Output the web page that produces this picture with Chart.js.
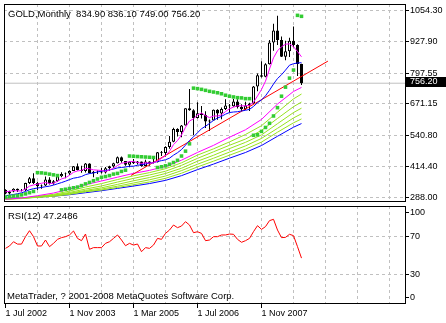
<!DOCTYPE html>
<html>
<head>
<meta charset="utf-8">
<script src="https://cdn.jsdelivr.net/npm/chart.js@4.4.1/dist/chart.umd.min.js"></script>
<style>
html, body { margin: 0; padding: 0; background: #fff; }
#wrap { position: relative; width: 446px; height: 323px; overflow: hidden; font-family: "Liberation Sans", Arial, sans-serif; }
#pricebox { position: absolute; left: 0; top: 0; width: 446px; height: 205px; }
#rsibox { position: absolute; left: 0; top: 205px; width: 446px; height: 118px; }
.lbl { position: absolute; font-size: 9.5px; line-height: 11px; white-space: pre; color: #000; }
</style>
</head>
<body>
<div id="wrap">
  <div id="pricebox"><canvas id="price"></canvas></div>
  <div id="rsibox"><canvas id="rsi"></canvas></div>
  <div class="lbl" id="t1" style="left:8px; top:8px;"></div>
  <div class="lbl" id="t2" style="left:8px; top:210px;"></div>
  <div class="lbl" id="t3" style="left:7px; top:290px;"></div>
</div>
<script>
// monthly bars, Jul 2002 .. Sep 2008 (bar index 0 = Jul 2002)
const opens = [318.5,304.5,312.8,323.7,317.0,317.5,347.5,367.5,348.0,334.0,
  337.0,362.0,346.0,355.0,375.0,384.0,386.0,397.0,416.0,401.0,
  397.0,427.0,388.0,394.0,395.0,391.0,408.0,416.0,428.0,453.0,
  438.0,422.0,435.0,428.0,436.0,417.0,436.0,429.0,433.0,473.0,
  470.0,495.0,517.0,569.0,556.0,583.0,654.0,645.0,614.0,633.0,
  626.0,599.0,604.0,648.0,632.0,651.0,665.0,662.0,681.0,659.0,
  650.0,665.0,673.0,743.0,789.0,783.0,834.0,923.0,972.0,933.0,
  865.0,887.0,930.0,913.0,834.9];
const highs = [321.5,316.0,326.0,325.0,323.0,349.0,372.5,388.0,353.0,341.0,
  374.0,371.0,360.0,377.0,392.0,391.0,400.0,417.0,427.0,418.0,
  429.0,428.0,397.0,399.0,409.0,413.0,418.0,430.0,456.0,456.0,
  438.0,437.0,446.0,438.0,436.0,443.0,437.0,448.0,475.0,479.0,
  498.0,540.0,574.0,572.0,585.0,654.0,732.0,650.0,678.0,663.0,
  641.0,608.0,649.0,650.0,657.0,690.0,671.0,692.0,691.0,670.0,
  680.0,676.0,745.0,796.0,846.0,838.0,933.0,1000.0,1032.0,947.0,
  930.0,942.0,988.0,916.0,836.1];
const lows = [302.0,300.5,310.0,311.0,313.0,315.0,344.0,344.0,319.0,324.0,
  335.0,341.0,340.0,353.0,371.0,367.0,380.0,397.0,399.0,390.0,
  391.0,386.0,371.0,384.0,387.0,387.0,398.0,410.0,427.0,431.0,
  418.0,412.0,425.0,423.0,414.0,415.0,418.0,427.0,432.0,458.0,
  456.0,488.0,514.0,538.0,535.0,583.0,643.0,543.0,612.0,612.0,
  573.0,560.0,604.0,607.0,609.0,647.0,636.0,660.0,653.0,641.0,
  647.0,642.0,672.0,723.0,780.0,781.0,833.0,889.0,913.0,863.0,
  850.0,863.0,903.0,786.0,749.0];
const closes = [304.5,312.8,323.7,317.0,317.5,347.5,367.5,348.0,334.0,337.0,
  362.0,346.0,355.0,375.0,384.0,386.0,397.0,416.0,401.0,397.0,
  427.0,388.0,394.0,395.0,391.0,408.0,416.0,428.0,453.0,438.0,
  422.0,435.0,428.0,436.0,417.0,436.0,429.0,433.0,473.0,470.0,
  495.0,517.0,569.0,556.0,583.0,654.0,645.0,614.0,633.0,626.0,
  599.0,604.0,648.0,632.0,651.0,665.0,662.0,681.0,659.0,650.0,
  665.0,673.0,743.0,789.0,783.0,834.0,923.0,972.0,933.0,865.0,
  887.0,930.0,913.0,834.9,756.2];

// short MA (magenta) and mid MA (blue), one value per bar
const maShort = [311.6,313.6,316.8,315,315.2,323.8,334.8,339.6,343,346.6,
  349.6,345.4,346.8,355,364.4,369.2,379.4,391.6,396.8,399.4,
  407.6,405.8,401.4,400.2,399,395.2,400.8,407.6,419.2,428.6,
  431.4,435.2,435.2,431.8,427.6,430.4,429.2,430.2,437.6,448.2,
  460,477.6,504.8,521.4,544,575.8,601.4,610.4,625.8,634.4,
  623.4,615.2,622,621.8,626.8,640,651.6,658.2,663.6,663.4,
  663.4,665.6,678,704,730.6,764.4,814.4,860.2,889,905.4,
  916,917.4,905.6,886,864.2];
const maMid = [294.7,297.9,300.5,303.7,307.3,313,320.1,324.3,327,329.4,
  332.4,334.8,339,344.3,349.3,355,361.5,367.3,370.1,374.2,
  381.9,386.2,388.8,392.9,395.9,398.7,401.3,404.8,409.5,411.3,
  413.1,416.3,416.3,420.3,422.3,425.7,428.8,430.9,435.7,439.2,
  442.7,449.3,461.5,471.6,484.5,502.7,521.7,536.5,553.5,569.6,
  580.1,591.3,604,613.6,620.4,629.5,636.1,638.3,639.5,642.5,
  645.2,649.1,661.1,676.5,687.8,704.6,727.3,752.8,775.4,790.8,
  809.8,830,836,839,840];

// slow MA fan, read at these bars
const fanBars = [0,4,8,12,16,20,24,28,32,36,40,44,48,52,56,60,64,68,72,74];
const ma30 = [281.1,286.2,295.6,306.5,322.7,340.7,355.8,371.5,387,399.3,415.6,441.1,472.7,501.7,535,565.5,607.9,670.9,722.4,739];
const ma35 = [282.7,285.3,293,301.2,314.4,331.1,345.2,361.7,377,390.1,406.2,430.2,461.8,487.4,515.9,546.3,582.1,637.6,692,712];
const ma40 = [280.5,285.5,291.8,298.2,309,322.9,335.5,351.5,366.6,380.5,395.9,419.7,448.5,475.4,502.1,527.5,563,611.9,660,679];
const ma45 = [281.4,283.8,290.5,297,305.5,317.3,327.9,341.9,356.6,370.1,386.5,408.1,436.8,461.1,488.5,514.1,544.7,590.5,636,654];
const ma50 = [282.6,284.6,289,294.7,304,313.7,322.7,334.5,347.5,360.7,376.1,398.3,424.6,449,474.2,499.6,530.2,571.4,614,631];
const ma55 = [283.7,285.4,289.4,293.5,300.8,311.7,318.8,329.3,340.4,352,366.8,387.7,413.5,436.9,461.5,486,515.1,555.6,594,610];
const ma60 = [285.9,286.1,289.8,293.5,299.6,307.8,316.1,325.5,335.1,345.3,358.4,377.7,402.4,425,449.2,472.5,501.1,538.9,576,591];

// parabolic SAR, one value per bar
const sar = [290,292,294,296,299,303,308,313,
  390,389,387,384,381,378,
  319.5,322,325,328,331,337,344,350,357,364,371,374,378,384,387,395,400,
  458,457,456,455,454,453,452,
  411,414,418,424.5,431.5,440.5,458,478,508,
  736,734,731,727,723,720,717,713,707,703,700,697,696,693,693,
  543,545,559,575,592,622,656,703,740,777,810,
  1034,1030];

// trend line end points
const trendBars = [31.4, 80.6];
const trendVals = [378.8, 846.6];

// RSI(12), one value per bar
const rsi = [57.5,60,64.5,62,62,69.8,76.1,69.8,60,60,
  66.3,59.3,62.8,67,68.8,69.8,71.6,75.8,68,65.6,
  72.6,56.5,58.3,58.3,58.3,62.8,64.5,68,71.6,66.3,
  60.3,62.8,61,62.1,54,58.3,57.5,61,68,67,
  73.3,76.8,82.1,79.3,81,85.6,82.1,74,75,73.3,
  65.6,66.3,69.8,69.8,71.6,71.6,72.6,72.3,67,63.9,
  65.6,68,75.1,81.4,77.5,80.4,86.7,88.1,76.8,68.8,
  69.1,72.3,70.9,59.3,47.2486];

// axes
const priceTicks = [288.00, 414.40, 540.80, 671.15, 797.55, 927.90, 1054.30];
const rsiTicks = [0, 30, 70, 100];
const gridBars = [0,8,16,24,32,40,48,56,64,72,80,88,96];
const xLabelBars = [0,16,32,48,64];
const xLabels = ['1 Jul 2002','1 Nov 2003','1 Mar 2005','1 Jul 2006','1 Nov 2007'];

const bars = closes.map((_, i) => i);
const last = closes.length - 1;
const lastClose = closes[last];

const FONT = '"Liberation Sans", Arial, sans-serif';
const GRID = '#c0c0c0';
const X_MIN = -0.375, X_MAX = 99.875;
Chart.defaults.font.family = FONT;
Chart.defaults.font.size = 9;
Chart.defaults.color = '#000';

document.getElementById('t1').textContent =
  'GOLD,Monthly  ' + [opens[last], highs[last], lows[last], closes[last]].map(v => v.toFixed(2)).join(' ');
document.getElementById('t2').textContent = 'RSI(12) ' + rsi[last].toFixed(4);
document.getElementById('t3').textContent = 'MetaTrader, ? 2001-2008 MetaQuotes Software Corp.';

function xy(ix, vals) { return ix.map((x, i) => ({ x: x, y: vals[i] })); }
function line(label, ix, vals, color, order) {
  return { type: 'line', label: label, data: xy(ix, vals), borderColor: color, borderWidth: 1,
    pointRadius: 0, fill: false, tension: 0, order: order };
}

const framePlugin = {
  id: 'frame',
  afterDraw(chart) {
    const a = chart.chartArea, c = chart.ctx;
    c.save();
    c.strokeStyle = '#000';
    c.lineWidth = 1;
    c.strokeRect(a.left + 0.5, a.top + 0.5, a.right - a.left, a.bottom - a.top);
    c.restore();
  }
};

// black tag with the last close on the price scale
const lastPricePlugin = {
  id: 'lastPrice',
  afterDraw(chart) {
    const y = Math.round(chart.scales.y.getPixelForValue(lastClose));
    const c = chart.ctx, r = chart.chartArea.right;
    c.save();
    c.fillStyle = '#000';
    c.fillRect(r + 1, y - 6, 40, 10);
    c.fillStyle = '#fff';
    c.font = '9px ' + FONT;
    c.textBaseline = 'middle';
    c.fillText(lastClose.toFixed(2), r + 5, y - 1);
    c.restore();
  }
};

const common = {
  responsive: true,
  maintainAspectRatio: false,
  animation: false,
  devicePixelRatio: 1,
  events: [],
  plugins: { legend: { display: false }, tooltip: { enabled: false } }
};

new Chart(document.getElementById('price'), {
  type: 'bar',
  data: {
    datasets: [
      { type: 'line', label: 'SAR', data: xy(bars, sar), showLine: false, pointStyle: 'rect',
        pointRadius: 2.5, pointBackgroundColor: '#33cc33', pointBorderWidth: 0, order: 0 },
      line('MA short', bars, maShort, '#ff00ff', 1),
      line('MA mid', bars, maMid, '#0000ff', 2),
      line('Trend', trendBars, trendVals, '#ff0000', 3),
      line('MA30', fanBars, ma30, '#ff00ff', 4),
      line('MA35', fanBars, ma35, '#96e21e', 5),
      line('MA40', fanBars, ma40, '#96e21e', 5),
      line('MA45', fanBars, ma45, '#96e21e', 5),
      line('MA50', fanBars, ma50, '#96e21e', 5),
      line('MA55', fanBars, ma55, '#96e21e', 5),
      line('MA60', fanBars, ma60, '#0000ff', 6),
      { type: 'bar', label: 'body', data: bars.map(i => ({ x: i, y: [opens[i], closes[i]] })),
        backgroundColor: bars.map(i => closes[i] >= opens[i] ? '#ffffff' : '#000000'),
        borderColor: '#000', borderWidth: 1, borderSkipped: false, barThickness: 3,
        grouped: false, inflateAmount: 0, order: 10 },
      { type: 'bar', label: 'wick', data: bars.map(i => ({ x: i, y: [lows[i], highs[i]] })),
        backgroundColor: '#000', borderWidth: 0, barThickness: 1, grouped: false,
        inflateAmount: 0, order: 11 },
      line('Last', [X_MIN, X_MAX], [lastClose, lastClose], GRID, 20)
    ]
  },
  options: Object.assign({}, common, {
    layout: { padding: { left: 4, top: 4, right: 0, bottom: 1 } },
    scales: {
      x: {
        type: 'linear', min: X_MIN, max: X_MAX, offset: false,
        afterBuildTicks: s => { s.ticks = gridBars.filter(v => v > 0).map(v => ({ value: v })); },
        afterFit: s => { s.height = 0; s.paddingLeft = 0; s.paddingRight = 0; },
        ticks: { display: false },
        grid: { color: GRID, drawTicks: false, offset: false },
        border: { display: false, dash: [3, 3] }
      },
      y: {
        type: 'linear', position: 'right', min: 273.9, max: 1080.5,
        afterBuildTicks: s => { s.ticks = priceTicks.map(v => ({ value: v })); },
        afterFit: s => { s.width = 41; s.paddingTop = 0; s.paddingBottom = 0; },
        ticks: { autoSkip: false, padding: 1, callback: v => v.toFixed(2) },
        grid: { color: GRID, tickColor: '#000', tickLength: 4, tickBorderDash: [] },
        border: { display: false, dash: [3, 3] }
      }
    }
  }),
  plugins: [framePlugin, lastPricePlugin]
});

new Chart(document.getElementById('rsi'), {
  type: 'line',
  data: {
    datasets: [ line('RSI(12)', bars, rsi, '#ff0000', 0) ]
  },
  options: Object.assign({}, common, {
    layout: { padding: { left: 4, top: 1, right: 0, bottom: 0 } },
    scales: {
      x: {
        type: 'linear', position: 'bottom', min: X_MIN, max: X_MAX, offset: false,
        afterBuildTicks: s => { s.ticks = gridBars.map(v => ({ value: v })); },
        afterFit: s => { s.height = 20; s.paddingLeft = 0; s.paddingRight = 0; },
        ticks: { autoSkip: false, maxRotation: 0, minRotation: 0, align: 'start', padding: 0,
          callback: v => { const k = xLabelBars.indexOf(v); return k < 0 ? '' : xLabels[k]; } },
        grid: {
          offset: false,
          color: c => (c.tick && c.tick.value > 0) ? GRID : 'transparent',
          tickColor: c => (c.tick && xLabelBars.includes(c.tick.value)) ? '#000' : 'transparent',
          tickLength: 5, tickBorderDash: []
        },
        border: { display: false, dash: [3, 3] }
      },
      y: {
        type: 'linear', position: 'right', min: 0, max: 102.1,
        // 0 and 100 labels sit inset from the panel edges, as MetaTrader draws them
        afterBuildTicks: s => { s.ticks = rsiTicks.map(v => ({ value: v === 0 ? 6 : (v === 100 ? 95 : v) })); },
        afterFit: s => { s.width = 41; s.paddingTop = 0; s.paddingBottom = 0; },
        ticks: { autoSkip: false, padding: 1, callback: (v, i) => String(rsiTicks[i]) },
        grid: {
          color: c => (c.tick && (c.tick.value === 30 || c.tick.value === 70)) ? GRID : 'transparent',
          tickColor: '#000', tickLength: 4, tickBorderDash: []
        },
        border: { display: false, dash: [3, 3] }
      }
    }
  }),
  plugins: [framePlugin]
});
</script>
</body>
</html>
